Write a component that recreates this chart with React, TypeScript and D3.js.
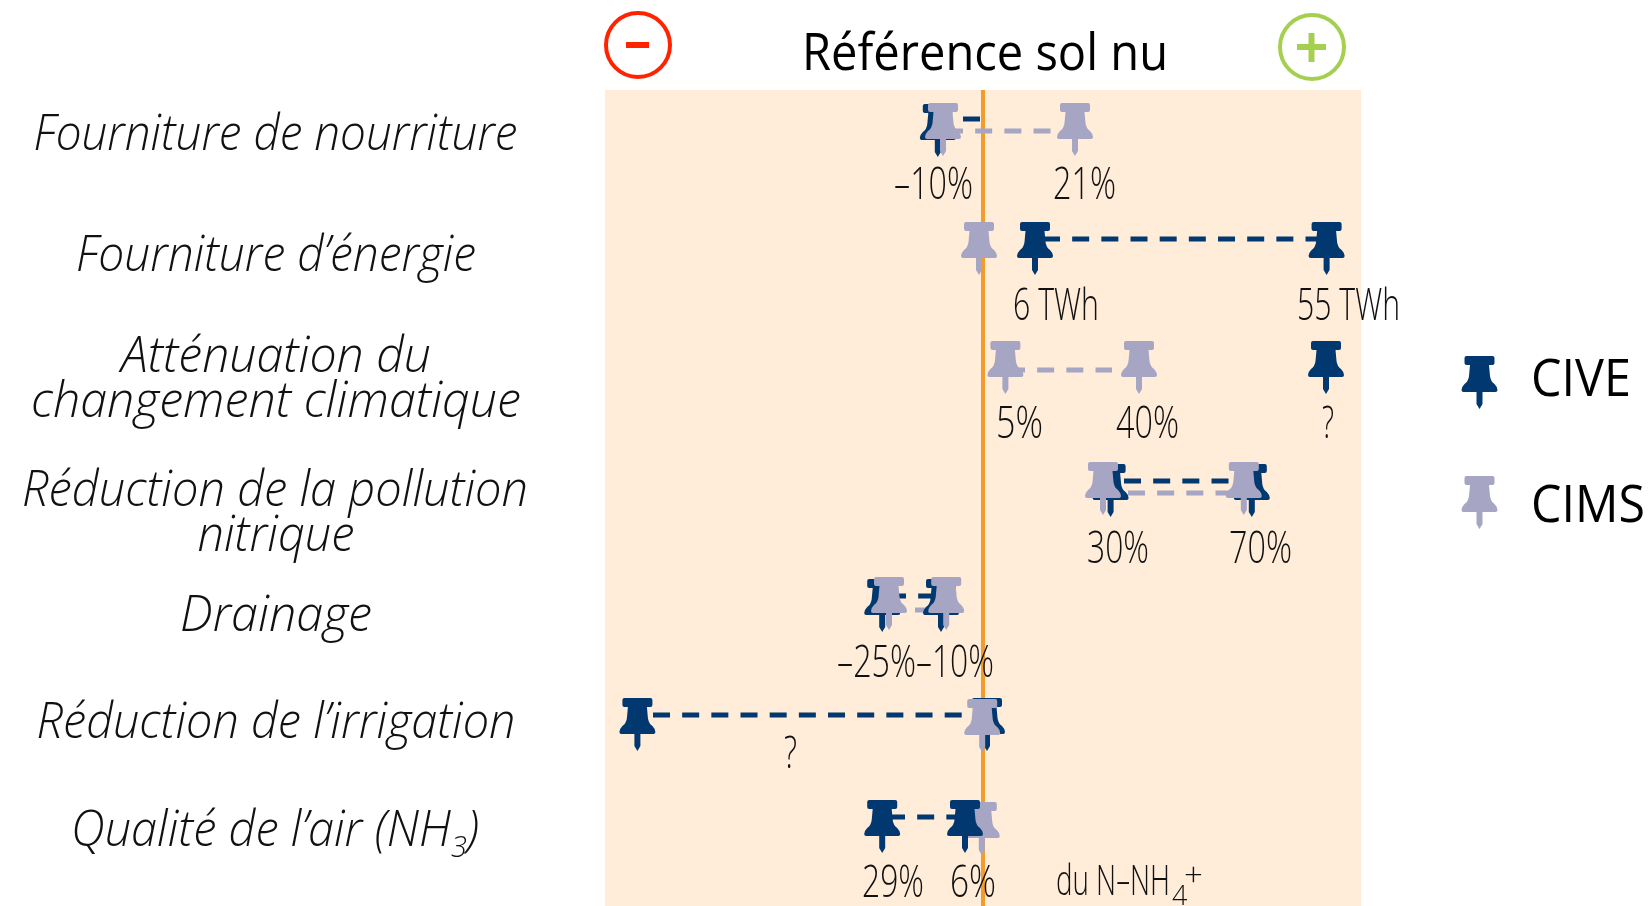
import React from "react";
import * as d3 from "d3";

// ---------- data (x values are positions on the chart's unitless − / + axis, in % equivalents) ----------
const rowNames = ["nourriture", "energie", "climat", "nitrique", "drainage", "irrigation", "air"];
const civeValues: number[][] = [[-11.3], [13, 85.9], [85.75], [31.9, 67.2], [-25.2, -10.5], [-86.4, 1], [-25.2, -4.5]];
const cimsValues: number[][] = [[-10, 23], [-1], [5.6, 39], [30, 65.2], [-23.5, -9.2], [-0.2], [-0.3]];
const civeLinks: number[][] = [[-5, -0.75], [15, 84.75], [], [35.25, 65], [-23.5, -10], [-82.5, -5.25], [-23.75, -3]];
const cimsLinks: number[][] = [[-9.25, 22], [], [6.25, 32.25], [36.25, 64], [-17, -11], [], []];
const categoryLabels = [
  { lines: [["Fourniture de nourriture"]] },
  { lines: [["Fourniture d’énergie"]] },
  { lines: [["Atténuation du"], ["changement climatique"]] },
  { lines: [["Réduction de la pollution"], ["nitrique"]] },
  { lines: [["Drainage"]] },
  { lines: [["Réduction de l’irrigation"]] },
  { lines: [["Qualité de l’air (NH", "3", ")"]] },
];
const valueLabels = ["–10%", "21%", "6 TWh", "55 TWh", "5%", "40%", "?", "30%", "70%", "–25%", "–10%", "?", "29%", "6%"];
const legendItems = ["CIVE", "CIMS"];
const titleText = "Référence sol nu";

// ---------- layout ----------
const W = 1648, H = 906;
const x = d3.scaleLinear().domain([-100, 100]).range([583, 1383]);
const rowTop = [103, 222, 341, 462, 577, 699, 802];
const civeDy = [1, 0, 0, 2, 2, -1, -2];
const civeLinkY = [119, 239, 0, 481, 596, 715, 817];
const cimsLinkY = [131, 0, 370, 493, 610, 0, 0];
const catPos = [
  [[275.5, 150, 484]],
  [[276, 271, 400]],
  [[276, 372, 310], [276, 417, 490]],
  [[275, 506, 506], [276, 551, 157]],
  [[276, 631, 192]],
  [[276, 738, 479]],
  [[275, 846, 408]],
];
const valuePos = [
  [894, 199, 79], [1053, 199, 63], [1013, 320, 86], [1297, 320, 103], [996, 438, 47], [1116, 438, 63],
  [1322, 438, 12], [1087, 563, 62], [1229, 563, 63], [837, 677, 79], [916, 677, 78], [784, 768, 13],
  [862, 897, 62], [950, 897, 46],
];

const DARK = "#00386f", LIGHT = "#a6a6c4", PANEL = "#ffecd9", ORANGE = "#f39c2e", RED = "#ff2300", GREEN = "#a5d04f";
const PIN =
  "M-13,0H13Q15,0 15,2V7Q15,9 13,9H9.5L10.5,20Q11,25 15,28Q18,31 18,34Q18,36 16,36H3V48L0,53L-3,48V36H-16Q-18,36 -18,34Q-18,31 -15,28Q-11,25 -10.5,20L-9.5,9H-13Q-15,9 -15,7V2Q-15,0 -13,0Z";

function Pin({ cx, top, fill }: { cx: number; top: number; fill: string }) {
  return <path d={PIN} transform={`translate(${cx},${top})`} fill={fill} />;
}

const font = "'Open Sans', sans-serif";
const DASH = "17 12.17";

export default function App() {
  return (
    <svg
      width={W}
      height={H}
      viewBox={`0 0 ${W} ${H}`}
      style={{ position: "fixed", left: 0, top: 0, display: "block" }}
      fontFamily={font}
    >
      <rect x={x(-94.5)} y={90} width={x(94.5) - x(-94.5)} height={H - 90} fill={PANEL} />
      <line x1={x(0)} x2={x(0)} y1={90} y2={H} stroke={ORANGE} strokeWidth={4} />

      <ellipse cx={638} cy={45} rx={32} ry={32} fill="none" stroke={RED} strokeWidth={4} />
      <rect x={626} y={42} width={23} height={6} fill={RED} />
      <ellipse cx={1312} cy={47} rx={32} ry={32} fill="none" stroke={GREEN} strokeWidth={4} />
      <path d="M1297,47H1326M1311.5,33V62" stroke={GREEN} strokeWidth={6} fill="none" />
      <text x={802} y={70} fontSize={52} textLength={366} lengthAdjust="spacingAndGlyphs" fill="#000">
        {titleText}
      </text>

      {rowNames.map((name, i) => (
        <g key={name}>
          {catPosLines(i)}
        </g>
      ))}

      {rowNames.map((name, i) => (
        <g key={name}>
          {civeLinks[i].length > 0 && (
            <line x1={x(civeLinks[i][0])} x2={x(civeLinks[i][1])} y1={civeLinkY[i]} y2={civeLinkY[i]}
              stroke={DARK} strokeWidth={5} strokeDasharray={DASH} />
          )}
          {cimsLinks[i].length > 0 && (
            <line x1={x(cimsLinks[i][0])} x2={x(cimsLinks[i][1])} y1={cimsLinkY[i]} y2={cimsLinkY[i]}
              stroke={LIGHT} strokeWidth={5} strokeDasharray={DASH} />
          )}
        </g>
      ))}

      {rowNames.map((name, i) => {
        const dark = civeValues[i].map((v, j) => (
          <Pin key={`d${j}`} cx={x(v)} top={rowTop[i] + civeDy[i]} fill={DARK} />
        ));
        const light = cimsValues[i].map((v, j) => <Pin key={`l${j}`} cx={x(v)} top={rowTop[i]} fill={LIGHT} />);
        return <g key={name}>{name === "air" ? [light, dark] : [dark, light]}</g>;
      })}

      {valueLabels.map((t, i) => (
        <text key={i} x={valuePos[i][0]} y={valuePos[i][1]} fontSize={44} fontWeight={300}
          textLength={valuePos[i][2]} lengthAdjust="spacingAndGlyphs" fill="#111">
          {t}
        </text>
      ))}

      <text x={1056} y={895} fontSize={43} fontWeight={300} textLength={114} lengthAdjust="spacingAndGlyphs" fill="#111">du N–NH</text>
      <text x={1172} y={905} fontSize={27} fontWeight={300} fill="#111">4</text>
      <text x={1184} y={886} fontSize={33} fontWeight={300} fill="#111">+</text>

      {legendItems.map((t, i) => (
        <g key={t}>
          <Pin cx={1479.5} top={[356, 476][i]} fill={i === 0 ? DARK : LIGHT} />
          <text x={1531} y={[396, 522][i]} fontSize={52} textLength={[100, 114][i]} lengthAdjust="spacingAndGlyphs" fill="#000">
            {t}
          </text>
        </g>
      ))}
    </svg>
  );
}

function catPosLines(i: number) {
  return categoryLabels[i].lines.map((parts, k) => {
    const [cx, y, len] = catPos[i][k];
    return (
      <text key={k} x={cx} y={y} textAnchor="middle" fontSize={49} fontStyle="italic" fontWeight={300}
        textLength={len} lengthAdjust="spacingAndGlyphs" fill="#111">
        {parts.length === 1 ? parts[0] : (
          <>
            {parts[0]}
            <tspan fontSize={30} dy={11}>{parts[1]}</tspan>
            <tspan dy={-11}>{parts[2]}</tspan>
          </>
        )}
      </text>
    );
  });
}
